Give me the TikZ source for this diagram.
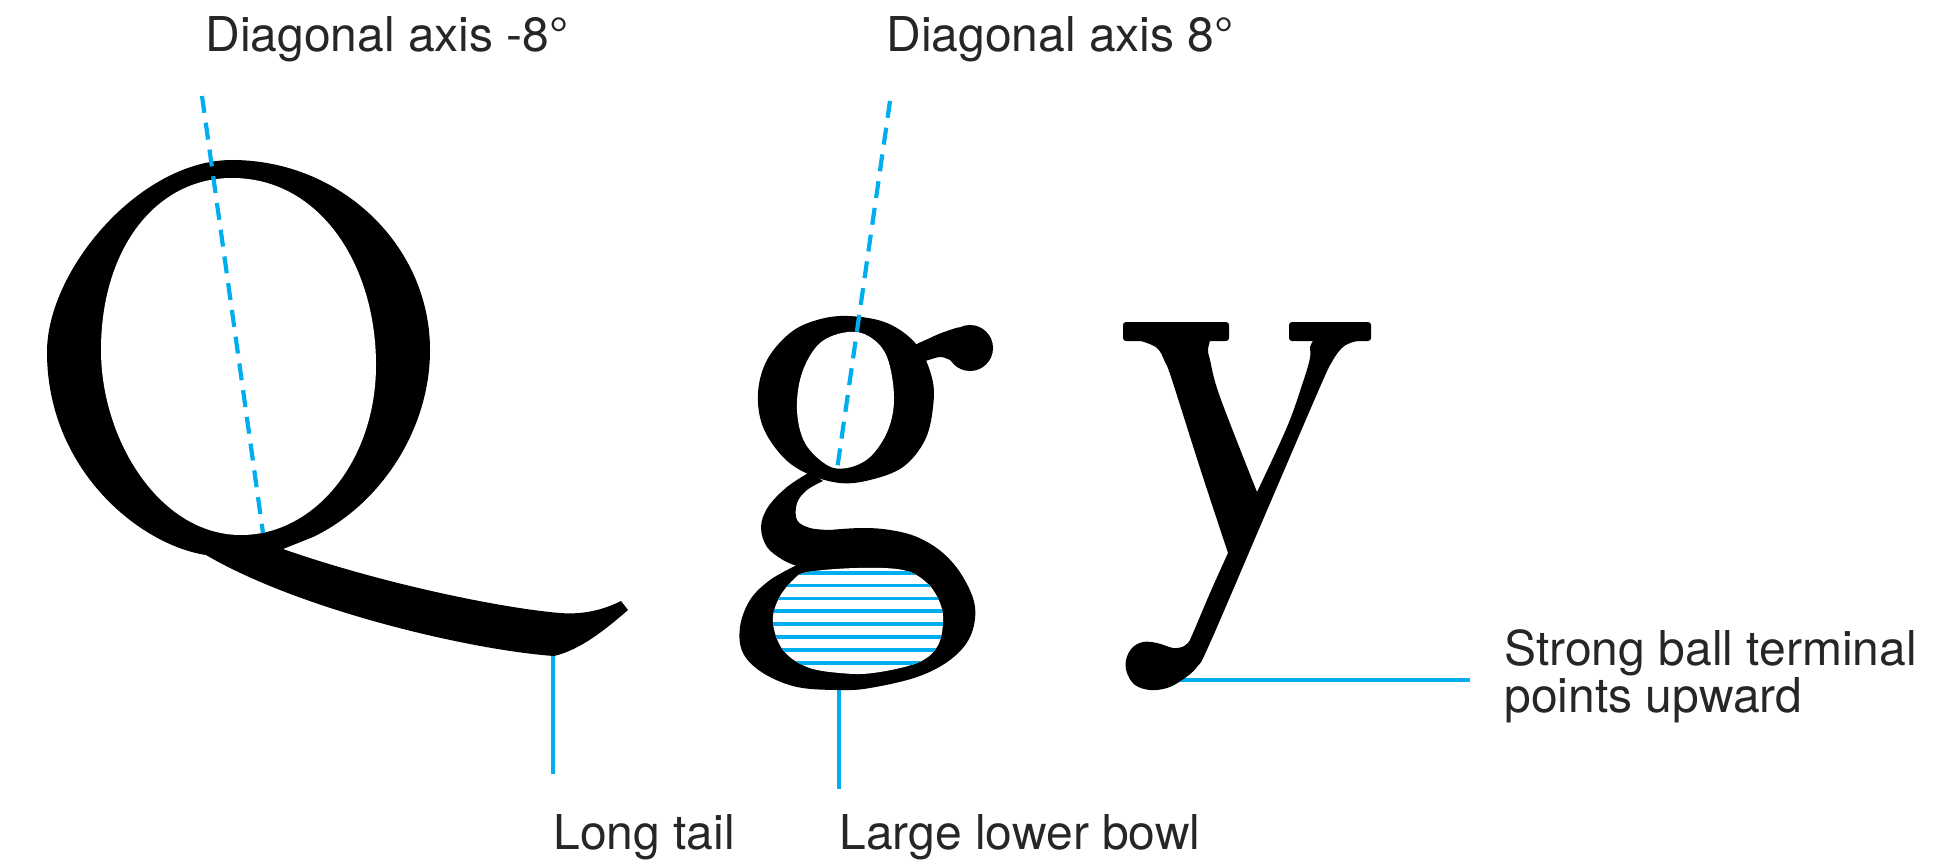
\documentclass[tikz,border=0pt]{standalone}
\usepackage{fontspec}
\setmainfont{TeX Gyre Heros}
\definecolor{axisblue}{HTML}{00AEEF}
\definecolor{labelgrey}{HTML}{262626}
\tikzset{
  labeltext/.style={font=\fontsize{24}{22.5}\selectfont, text=labelgrey, inner sep=0pt, anchor=base west},
  ink/.style={fill=black},
  counter/.style={fill=white},
  axisline/.style={axisblue, line width=2.1pt, dash pattern=on 8.5pt off 5pt},
  leader/.style={axisblue, line width=2pt},
  hatchline/.style={axisblue, line width=1.9pt}
}
\begin{document}
\begin{tikzpicture}[x=0.5pt, y=-0.5pt, line cap=butt]
\useasboundingbox (0,0) rectangle (1957,866);
% labels
\node[labeltext] (qaxis) at (205,52) {Diagonal axis -8°};
\node[labeltext] (gaxis) at (886,52) {Diagonal axis 8°};
\node[labeltext] (tail) at (553,849) {Long tail};
\node[labeltext] (bowl) at (839,849) {Large lower bowl};
\node[labeltext, anchor=north west, align=left] (ball) at (1504,629) {Strong ball terminal\\points upward};
% leaders (their upper ends hide under the letters)
\coordinate (tailend) at (553,645);
\coordinate (bowlend) at (839,684);
\coordinate (ballend) at (1170,680);
\draw[leader] (tailend) -- ([yshift=20pt]tail.north west);
\draw[leader] (bowlend) -- ([yshift=12.5pt]bowl.north west);
\draw[leader] (ballend) -- ([xshift=-17pt]ball.west |- ballend);
% Q
\fill[ink] (232,160) .. controls (340,160) and (430,245) .. (430,350)
  .. controls (430,430) and (380,505) .. (313,537) -- (283,549)
  .. controls (380,583) and (500,608) .. (560,613)
  .. controls (585,615) and (605,609) .. (621,601) -- (628,610)
  .. controls (605,630) and (580,650) .. (554,656)
  .. controls (470,650) and (300,610) .. (206,555)
  .. controls (140,545) and (47,470) .. (47,352)
  .. controls (47,270) and (140,160) .. (232,160) -- cycle;
\fill[counter] (232,178) .. controls (320,178) and (376,265) .. (376,365)
  .. controls (376,460) and (315,535) .. (241,535)
  .. controls (160,535) and (101,440) .. (101,350)
  .. controls (101,250) and (155,178) .. (232,178) -- cycle;
% g
\fill[ink] plot[smooth cycle, tension=0.6] coordinates {(848,316) (887,323) (917,345) (932,378) (933,407) (925,440) (903,467) (870,480) (840,483) (808,474) (783,457) (763,427) (758,393) (767,360) (790,333) (817,320)};
\fill[ink] plot[smooth cycle, tension=0.6] coordinates {(912,348) (930,338) (947,331) (963,328) (968,345) (960,364) (950,360) (940,357) (925,361) (912,363)};
\fill[ink] (970,348) circle (23);
\fill[ink] plot[smooth, tension=0.6] coordinates {(810,472) (787,487) (768,507) (761,527) (767,547) (783,560) (797,566)}
  -- (840,545)
  -- plot[smooth, tension=0.6] coordinates {(830,530) (810,528) (797,520) (797,503) (807,490) (823,481)}
  -- cycle;
\fill[ink] plot[smooth, tension=0.6] coordinates {(797,565) (770,580) (750,600) (740,627) (743,653) (763,673) (797,687) (840,690) (870,688) (917,677) (950,660) (970,637) (975,607) (963,577) (943,553) (917,537) (890,530) (863,528) (830,530) (810,533)} -- cycle;
\fill[counter] plot[smooth cycle, tension=0.6] coordinates {(848,332) (870,337) (887,357) (894,397) (888,430) (870,457) (847,468) (827,465) (805,443) (797,410) (802,373) (820,343)};
% hatching in the lower bowl of g
\begin{scope}
  \clip plot[smooth cycle, tension=0.6] coordinates {(808,572) (857,568) (903,570) (927,583) (940,603) (943,623) (937,647) (917,663) (873,673) (840,673) (807,667) (783,650) (773,623) (778,600) (793,580)};
  \fill[counter] (760,560) rectangle (960,680);
  \foreach \k in {0,...,7}
    {\draw[hatchline] (760,{572.7+12.86*\k}) -- (960,{572.7+12.86*\k});}
\end{scope}
% y
\fill[ink, rounded corners=1.5pt] (1123,322) rectangle (1229,341);
\fill[ink, rounded corners=1.5pt] (1289,322) rectangle (1371,341);
\fill[ink] plot[smooth, tension=0.6] coordinates {(1141,341) (1157,348) (1165,362) (1172,380) (1200,468) (1228,553)}
  -- plot[smooth, tension=0.6] coordinates {(1228,553) (1210,593) (1193,633) (1188,643) (1182,647)}
  -- plot[smooth, tension=0.6] coordinates {(1182,647) (1173,648) (1157,643) (1143,642) (1132,648) (1126,660) (1127,673) (1135,685) (1150,690) (1167,688) (1182,680) (1197,667) (1210,643) (1265,515) (1320,387) (1333,360) (1343,347) (1353,342) (1358,341)}
  -- (1313,341)
  -- plot[smooth, tension=0.6] coordinates {(1313,341) (1310,347) (1310,358) (1303,382) (1287,427) (1257,492)}
  -- plot[smooth, tension=0.6] coordinates {(1257,492) (1220,397) (1210,360) (1208,350) (1210,341)}
  -- cycle;
% stress axes
\coordinate (qaxistop) at (202,96);
\coordinate (qaxisbot) at (263,533);
\coordinate (gaxistop) at (890,101);
\coordinate (gaxisbot) at (837,470);
\draw[axisline] (qaxistop) -- (qaxisbot);
\draw[axisline] (gaxistop) -- (gaxisbot);
\end{tikzpicture}
\end{document}
